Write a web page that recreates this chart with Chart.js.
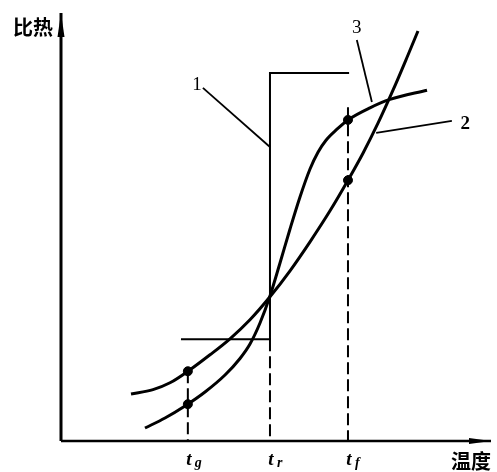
<!DOCTYPE html>
<html>
<head>
<meta charset="utf-8">
<script src="https://cdn.jsdelivr.net/npm/chart.js@4/dist/chart.umd.min.js"></script>
<style>
html,body{margin:0;padding:0;background:#fff;}
canvas{display:block;}
</style>
</head>
<body>
<canvas id="c" width="497" height="472"></canvas>
<script>
// ---- data (arbitrary units: temperature 0-100, specific heat 0-100) ----
const curve2X = [16.28, 21.40, 25.35, 30.00, 34.65, 39.30, 43.95, 48.60, 53.26, 57.91, 62.56, 66.74, 70.23, 73.72, 77.21, 80.70, 83.02];
const curve2Y = [10.98, 12.01, 13.60, 16.64, 20.14, 23.88, 28.32, 33.69, 39.77, 46.54, 53.79, 60.93, 67.24, 74.25, 81.96, 90.19, 95.79];
const curve3X = [19.53, 24.19, 28.84, 33.49, 38.14, 41.63, 43.95, 46.28, 48.60, 50.93, 53.26, 55.58, 57.91, 59.77, 61.63, 64.19, 66.74, 71.86, 76.51, 85.12];
const curve3Y = [3.04, 5.37, 8.18, 11.45, 15.42, 19.28, 22.66, 27.57, 33.88, 41.59, 49.53, 57.01, 63.55, 67.48, 70.28, 72.85, 75.02, 77.85, 79.81, 81.96];
const stepX = [27.9, 48.6, 48.6, 67.0];
const stepY = [23.8, 23.8, 86.0, 86.0];
const tickValues = [29.5, 48.6, 66.74];
const tickSubs = ['g', 'r', 'f'];
const guideTops = [16.3, 23.8, 78.0];
const dotX = [29.5, 29.5, 66.74, 66.74];
const dotY = [16.3, 8.6, 60.93, 75.02];
const curveLabels = ['1', '2', '3'];
const labelX = [31.6, 94.0, 68.8];
const labelY = [83.2, 74.1, 96.5];
const leaderFromX = [33.0, 90.9, 68.8];
const leaderFromY = [82.5, 74.8, 93.7];
const leaderToX = [48.6, 73.3, 72.3];
const leaderToY = [68.7, 72.0, 79.2];
const xAxisTitle = '温度';
const yAxisTitle = '比热';

const pts = (xs, ys) => xs.map((x, i) => ({x, y: ys[i]}));
const base = {borderColor:'#000', backgroundColor:'#000', pointRadius:0, showLine:true, fill:false, clip:false};

const datasets = [
  Object.assign({}, base, {data: pts(curve2X, curve2Y), borderWidth:3, cubicInterpolationMode:'monotone'}),
  Object.assign({}, base, {data: pts(curve3X, curve3Y), borderWidth:3, cubicInterpolationMode:'monotone'}),
  Object.assign({}, base, {data: pts(stepX, stepY), borderWidth:2, tension:0}),
];
tickValues.forEach((t, i) => {
  datasets.push(Object.assign({}, base, {data: [{x:t, y:guideTops[i]}, {x:t, y:0}], borderWidth:2, borderDash:[12,5]}));
});
leaderFromX.forEach((x, i) => {
  datasets.push(Object.assign({}, base, {data: [{x, y:leaderFromY[i]}, {x:leaderToX[i], y:leaderToY[i]}], borderWidth:1.8}));
});
// axes
datasets.push(Object.assign({}, base, {data: [{x:0, y:0}, {x:100, y:0}], borderWidth:2.5}));
datasets.push(Object.assign({}, base, {data: [{x:0, y:0}, {x:0, y:100}], borderWidth:3}));
// dots
datasets.push({data: pts(dotX, dotY), showLine:false, pointRadius:4.5, pointBackgroundColor:'#000', pointBorderColor:'#000', clip:false});

const decor = {
  id: 'decor',
  afterDatasetsDraw(chart) {
    const ctx = chart.ctx, xs = chart.scales.x, ys = chart.scales.y;
    const px = v => xs.getPixelForValue(v), py = v => ys.getPixelForValue(v);
    ctx.save();
    ctx.fillStyle = '#000';
    // y-axis arrowhead
    const ax = px(0), ay = py(100);
    ctx.beginPath();
    ctx.moveTo(ax, ay);
    ctx.lineTo(ax + 3.5, ay + 24);
    ctx.lineTo(ax - 3.5, ay + 24);
    ctx.closePath(); ctx.fill();
    // x-axis arrowhead
    const bx = px(100), by = py(0);
    ctx.beginPath();
    ctx.moveTo(bx, by);
    ctx.lineTo(bx - 22, by - 3);
    ctx.lineTo(bx - 22, by + 3);
    ctx.closePath(); ctx.fill();
    // axis titles
    ctx.font = 'bold 20px "Noto Sans CJK SC"';
    ctx.textBaseline = 'middle';
    ctx.textAlign = 'center';
    ctx.fillText(yAxisTitle, 33, 27);
    ctx.fillText(xAxisTitle, 471, 461);
    // tick labels t_g, t_r, t_f
    tickValues.forEach((t, i) => {
      const x = px(t);
      ctx.font = 'italic bold 19px "Liberation Serif"';
      ctx.textAlign = 'center';
      ctx.textBaseline = 'alphabetic';
      ctx.fillText('t', x + 1, 465);
      ctx.font = 'italic bold 14px "Liberation Serif"';
      ctx.textAlign = 'left';
      ctx.fillText(tickSubs[i], x + 7, 467);
    });
    // curve labels
    curveLabels.forEach((s, i) => {
      ctx.font = (s === '2' ? 'bold ' : '') + '19px "Liberation Serif"';
      ctx.textAlign = 'center';
      ctx.textBaseline = 'middle';
      ctx.fillText(s, px(labelX[i]), py(labelY[i]));
    });
    ctx.restore();
  }
};

new Chart(document.getElementById('c'), {
  type: 'scatter',
  data: {datasets},
  options: {
    responsive: false,
    animation: false,
    devicePixelRatio: 1,
    layout: {padding: {left:61, right:6, top:13, bottom:31}},
    plugins: {legend: {display:false}, tooltip: {enabled:false}},
    scales: {
      x: {type:'linear', min:0, max:100, display:false},
      y: {type:'linear', min:0, max:100, display:false}
    }
  },
  plugins: [decor]
});
</script>
</body>
</html>
